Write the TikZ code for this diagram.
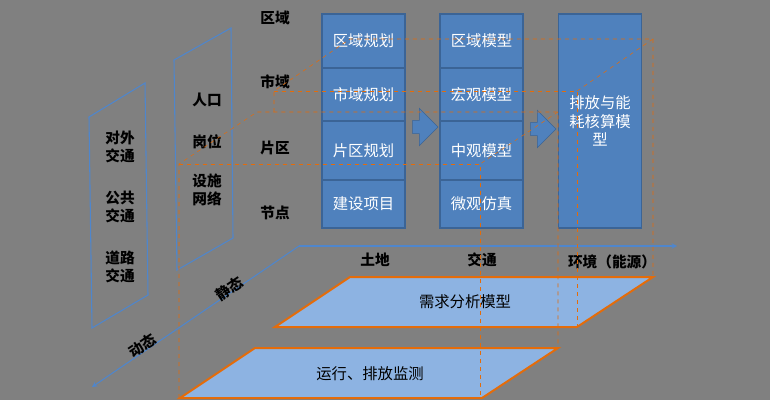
\documentclass[tikz,border=0pt]{standalone}
\usepackage{fontspec}
\setmainfont{Noto Sans CJK SC}
\usetikzlibrary{shapes.arrows}
\definecolor{bg}{HTML}{808080}
\definecolor{boxblue}{HTML}{4F81BD}
\definecolor{boxedge}{HTML}{3B6496}
\definecolor{lineblue}{HTML}{4F86CC}
\definecolor{planeblue}{HTML}{8DB3E2}
\definecolor{orng}{HTML}{E46C0A}
\tikzset{
  cell/.style={draw=boxedge,line width=1.2pt,fill=boxblue,text=white,minimum width=62pt,inner sep=0pt,font=\fontsize{11.5}{14}\selectfont},
  lbl/.style={font=\fontsize{11}{13}\selectfont\bfseries},
  odash/.style={draw=orng,dashed,thin},
  plane/.style={draw=orng,line width=1.5pt,fill=planeblue}
}
\begin{document}
\begin{tikzpicture}[x=0.75pt,y=-0.75pt]
\useasboundingbox[fill=bg] (0,0) rectangle (770,400);

%planes
\draw[plane] (350,277) -- (653,277) -- (577,327) -- (275,327) -- cycle;
\node[font=\fontsize{11.5}{14}\selectfont] (demand) at (465,302) {需求分析模型};
\draw[plane] (255,348) -- (558,348) -- (482,398) -- (180,398) -- cycle;
\node[font=\fontsize{11.5}{14}\selectfont] (monitor) at (370,374) {运行、排放监测};

%axes
\draw[lineblue,line width=0.8pt,-stealth] (299,246) -- (677,246);
\draw[lineblue,line width=0.8pt,-stealth] (299,246) -- (92,387);
\node[lbl,rotate=34] (static) at (229,289) {静态};
\node[lbl,rotate=34] (dynamic) at (142,346) {动态};
\node[lbl] (land) at (375,260) {土地};
\node[lbl] (traffic) at (482,260) {交通};
\node[lbl] (env) at (612,262) {环境（能源）};

%side planes
\draw[lineblue,line width=0.8pt] (89,117) -- (145,83) -- (148,295) -- (92,328) -- cycle;
\node[lbl,align=center] (ext) at (120,147) {对外\\交通};
\node[lbl,align=center] (pub) at (120,207) {公共\\交通};
\node[lbl,align=center] (road) at (120,267) {道路\\交通};
\draw[lineblue,line width=0.8pt] (174,60) -- (231,28) -- (233,238) -- (177,270) -- cycle;
\node[lbl] (pop) at (207,100) {人口};
\node[lbl] (job) at (207,142) {岗位};
\node[lbl,align=center] (net) at (207,190) {设施\\网络};

%levels
\node[lbl] (lv1) at (275,18) {区域};
\node[lbl] (lv2) at (275,82) {市域};
\node[lbl] (lv3) at (275,148) {片区};
\node[lbl] (lv4) at (275,213) {节点};

%columns
\node[cell,minimum height=40.5pt] (plan1) at (363.5,41) {区域规划};
\node[cell,minimum height=39.75pt] (plan2) at (363.5,94.5) {市域规划};
\node[cell,minimum height=44.25pt] (plan3) at (363.5,150.5) {片区规划};
\node[cell,minimum height=36pt] (plan4) at (363.5,204) {建设项目};
\node[cell,minimum height=40.5pt] (mod1) at (481.5,41) {区域模型};
\node[cell,minimum height=39.75pt] (mod2) at (481.5,94.5) {宏观模型};
\node[cell,minimum height=44.25pt] (mod3) at (481.5,150.5) {中观模型};
\node[cell,minimum height=36pt] (mod4) at (481.5,204) {微观仿真};
\node[cell,minimum height=160.5pt,align=center] (emis) at (600,121) {排放与能\\耗核算模\\型};
\node[single arrow,draw=boxedge,fill=boxblue,minimum height=19pt,minimum width=28pt,single arrow head extend=4pt,inner sep=2pt] (arr1) at (422,127) {};
\node[single arrow,draw=boxedge,fill=boxblue,minimum height=19pt,minimum width=28pt,single arrow head extend=4pt,inner sep=2pt] (arr2) at (540,129) {};

%dashed boxes
\draw[odash] (274,112) -- (274,91) -- (350,39) -- (653,39) -- (653,277);
\draw[odash] (274,91) -- (577,91) -- (577,327);
\draw[odash] (653,39) -- (577,91);
\draw[odash] (179,398) -- (179,164) -- (257,112) -- (558,112) -- (558,348);
\draw[odash] (179,164) -- (480,164) -- (480,398);
\draw[odash] (558,112) -- (480,164);
\end{tikzpicture}
\end{document}
